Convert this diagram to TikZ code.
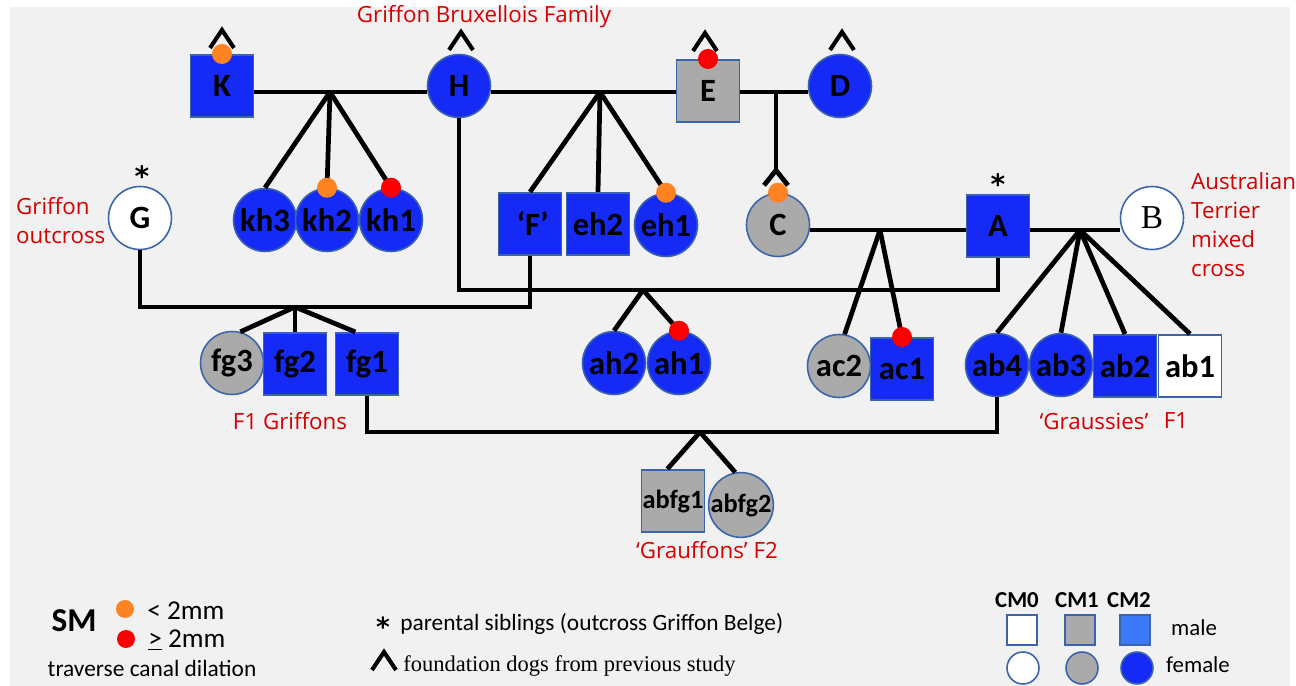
\documentclass[tikz,border=0pt]{standalone}
\usepackage{fontspec}
\setmainfont{Carlito}
\newfontfamily\tagfont{Open Sans}
\newfontfamily\seriffont{Liberation Serif}
\newfontfamily\starfont{DejaVu Sans}
\usetikzlibrary{positioning,arrows.meta}

\definecolor{cmblue}{RGB}{22,42,245}
\definecolor{cmgray}{RGB}{170,170,170}
\definecolor{dogedge}{RGB}{60,100,170}
\definecolor{legblue}{RGB}{60,120,250}
\definecolor{smorange}{RGB}{255,130,35}
\definecolor{smred}{RGB}{250,0,0}
\definecolor{groupred}{RGB}{212,0,0}
\definecolor{bggray}{RGB}{241,241,241}

\tikzset{
  dog/.style={draw=dogedge, line width=0.9pt, inner sep=0pt,
    font=\bfseries\fontsize{18.5}{20}\selectfont},
  male/.style={dog, rectangle, minimum width=1.26cm, minimum height=1.25cm},
  female/.style={dog, circle, minimum size=1.26cm},
  cm0/.style={fill=white},
  cm1/.style={fill=cmgray},
  cm2/.style={fill=cmblue},
  link/.style={line width=2.7pt},
  smlow/.style={circle, fill=smorange, inner sep=0pt, minimum size=0.4cm},
  smhigh/.style={circle, fill=smred, inner sep=0pt, minimum size=0.4cm},
  group/.style={text=groupred, font=\tagfont\fontsize{12.7}{16.5}\selectfont, align=left},
  sibmark/.style={font=\starfont\bfseries\fontsize{16}{16}\selectfont, inner sep=0pt,
    anchor=base, yshift=-0.56em},
  legend/.style={font=\fontsize{13.3}{16}\selectfont, inner sep=0pt},
  legmale/.style={draw=dogedge, line width=0.9pt, rectangle, minimum size=0.6cm},
  legfemale/.style={draw=dogedge, line width=0.9pt, circle, minimum size=0.64cm},
  found/.pic={\draw[line width=2.3pt] (-12,18) -- (0,0) -- (12,18);},
}

\begin{document}
\begin{tikzpicture}[x=0.02cm, y=-0.02cm]
   \useasboundingbox (0,0) rectangle (1296,686);
   \fill[bggray] (10,7) rectangle (1290,686);

   % founders
   \node[male, cm2] (K) at (222,86) {K};
   \node[female, cm2] (H) at (459,86) {H};
   \node[male, cm1] (E) at (708,91) {E};
   \node[female, cm2] (D) at (840,86) {D};
   \node[group] (title) at (484,17) {Griffon Bruxellois Family};
   \pic at (222,30) {found};
   \pic at (461,32) {found};
   \pic at (705,33) {found};
   \pic at (842,32) {found};

   % second generation
   \node[female, cm0] (G) at (140,218) {G};
   \node[female, cm2] (kh3) at (265,220) {kh3};
   \node[female, cm2] (kh2) at (327,220) {kh2};
   \node[female, cm2] (kh1) at (391,220) {kh1};
   \node[male, cm2] (F) at (530,224) {\,‘F’};
   \node[male, cm2] (eh2) at (598,224) {eh2};
   \node[female, cm2] (eh1) at (666,225) {eh1};
   \node[female, cm1] (C) at (778,225) {C};
   \node[male, cm2] (A) at (998,226) {A};
   \node[female, cm0, font=\seriffont\fontsize{19}{20}\selectfont] (B) at (1152,218) {B};
   \node[sibmark] (Gstar) at (142,177) {*};
   \node[sibmark] (Astar) at (998,185) {*};
   \node[group, anchor=west] (outcross) at (10,221) {Griffon\\outcross};
   \node[group, anchor=west] (terrier) at (1185,225) {Australian\\Terrier\\mixed\\cross};

   % third generation
   \node[female, cm1] (fg3) at (232,363) {fg3};
   \node[male, cm2] (fg2) at (295,364) {fg2};
   \node[male, cm2] (fg1) at (367,364) {fg1};
   \node[female, cm2] (ah2) at (614,363) {ah2};
   \node[female, cm2] (ah1) at (679,363) {ah1};
   \node[female, cm1] (ac2) at (839,366) {ac2};
   \node[male, cm2] (ac1) at (902,369) {ac1};
   \node[female, cm2] (ab4) at (997,365) {ab4};
   \node[female, cm2] (ab3) at (1061,365) {ab3};
   \node[male, cm2] (ab2) at (1125,366) {ab2};
   \node[male, cm0] (ab1) at (1190,366) {ab1};
   \node[group] (f1griffons) at (290,421) {F1 Griffons};
   \node[group] (graussies) at (1094,421) {‘Graussies’};
   \node[group] (graussiesf1) at (1176,421) {F1};

   % fourth generation
   \node[male, cm1, font=\bfseries\fontsize{15}{16}\selectfont] (abfg1) at (673,501) {abfg1};
   \node[female, cm1, font=\bfseries\fontsize{15}{16}\selectfont] (abfg2) at (741,505) {abfg2};
   \node[group] (grauffons) at (707,550) {‘Grauffons’ F2};

   % matings
   \coordinate (khdrop) at (330,92);
   \coordinate (hedrop) at (600,92);
   \coordinate (eddrop) at (776,92);
   \coordinate (cadrop) at (880,230);
   \coordinate (abdrop) at (1080,230);
   \coordinate (hadrop) at (643,290);
   \coordinate (gfdrop) at (295,307);
   \coordinate (fabdrop) at (700,432);

   \draw[link] (K.east |- khdrop) -- (H.west |- khdrop);
   \draw[link] (H.east |- hedrop) -- (E.west |- hedrop);
   \draw[link] (E.east |- eddrop) -- (D.west |- eddrop);
   \draw[link] (C.east |- cadrop) -- (A.west |- cadrop);
   \draw[link] (A.east |- abdrop) -- (B.west |- abdrop);
   \draw[link] (H.south) |- (hadrop) -| (A.south);
   \draw[link] (G.south) |- (gfdrop) -| (F.south);
   \draw[link] (fg1.south) |- (fabdrop) -| (ab4.south);
   \draw[link, -{Straight Barb[reversed, length=0.3cm, width=0.48cm]}, shorten >=0.1cm]
      (eddrop) -- (eddrop |- C.north);

   % offspring
   \path[link]
    (khdrop) edge (kh3.north) edge (kh2.north) edge (kh1.north)
    (hedrop) edge (F.north) edge (eh2.north) edge (eh1.north)
    (gfdrop) edge (fg3.75) edge (fg2.north) edge (fg1.110)
    (hadrop) edge (ah2.north) edge (ah1.north)
    (cadrop) edge (ac2.80) edge (ac1.north)
    (abdrop) edge (ab4.north) edge (ab3.north) edge (ab2.north) edge (ab1.north)
    (fabdrop) edge (abfg1.100) edge (abfg2.100);

   % SM grades
   \node[smlow] (Ksm) at (K.north) {};
   \node[smhigh] (Esm) at (E.north) {};
   \node[smlow] (kh2sm) at (kh2.north) {};
   \node[smhigh] (kh1sm) at (kh1.north) {};
   \node[smlow] (eh1sm) at (eh1.north) {};
   \node[smlow] (Csm) at (C.north) {};
   \node[smhigh] (ah1sm) at (ah1.north) {};
   \node[smhigh] (ac1sm) at (ac1.north) {};

   % legend
   \node[legend, font=\bfseries\fontsize{19}{20}\selectfont] (smkey) at (74,621) {SM};
   \node[smlow, minimum size=0.36cm] (lowkey) at (125,609) {};
   \node[legend, anchor=west, font=\fontsize{15.5}{16}\selectfont] (lowtext) at (147,611) {< 2mm};
   \node[smhigh, minimum size=0.36cm] (highkey) at (126,639) {};
   \node[legend, anchor=west, font=\fontsize{15.5}{16}\selectfont] (hightext) at (148,640) {\underline{>} 2mm};
   \node[legend] (canal) at (152,668) {traverse canal dilation};

   \node[sibmark, font=\starfont\bfseries\fontsize{15}{15}\selectfont] (sibkey) at (383,627) {*};
   \node[legend, anchor=west] (sibtext) at (400,624) {parental siblings (outcross Griffon Belge)};
   \pic at (384,652) {found};
   \node[legend, anchor=west, font=\seriffont\fontsize{12.8}{15}\selectfont] (foundtext) at (403,666) {foundation dogs from previous study};

   \node[legend, font=\bfseries\fontsize{13}{15}\selectfont] (cm0key) at (1017,600) {CM0};
   \node[legend, font=\bfseries\fontsize{13}{15}\selectfont] (cm1key) at (1077,600) {CM1};
   \node[legend, font=\bfseries\fontsize{13}{15}\selectfont] (cm2key) at (1129,600) {CM2};
   \node[legmale, fill=white] (m0) at (1022,630) {};
   \node[legmale, fill=cmgray] (m1) at (1080,630) {};
   \node[legmale, fill=legblue] (m2) at (1135,630) {};
   \node[legfemale, fill=white] (f0) at (1023,668) {};
   \node[legfemale, fill=cmgray] (f1) at (1082,668) {};
   \node[legfemale, fill=cmblue] (f2) at (1137,668) {};
   \node[legend, font=\fontsize{13}{15}\selectfont] (malekey) at (1194,628) {male};
   \node[legend, font=\fontsize{13}{15}\selectfont] (femalekey) at (1198,665) {female};
\end{tikzpicture}
\end{document}
